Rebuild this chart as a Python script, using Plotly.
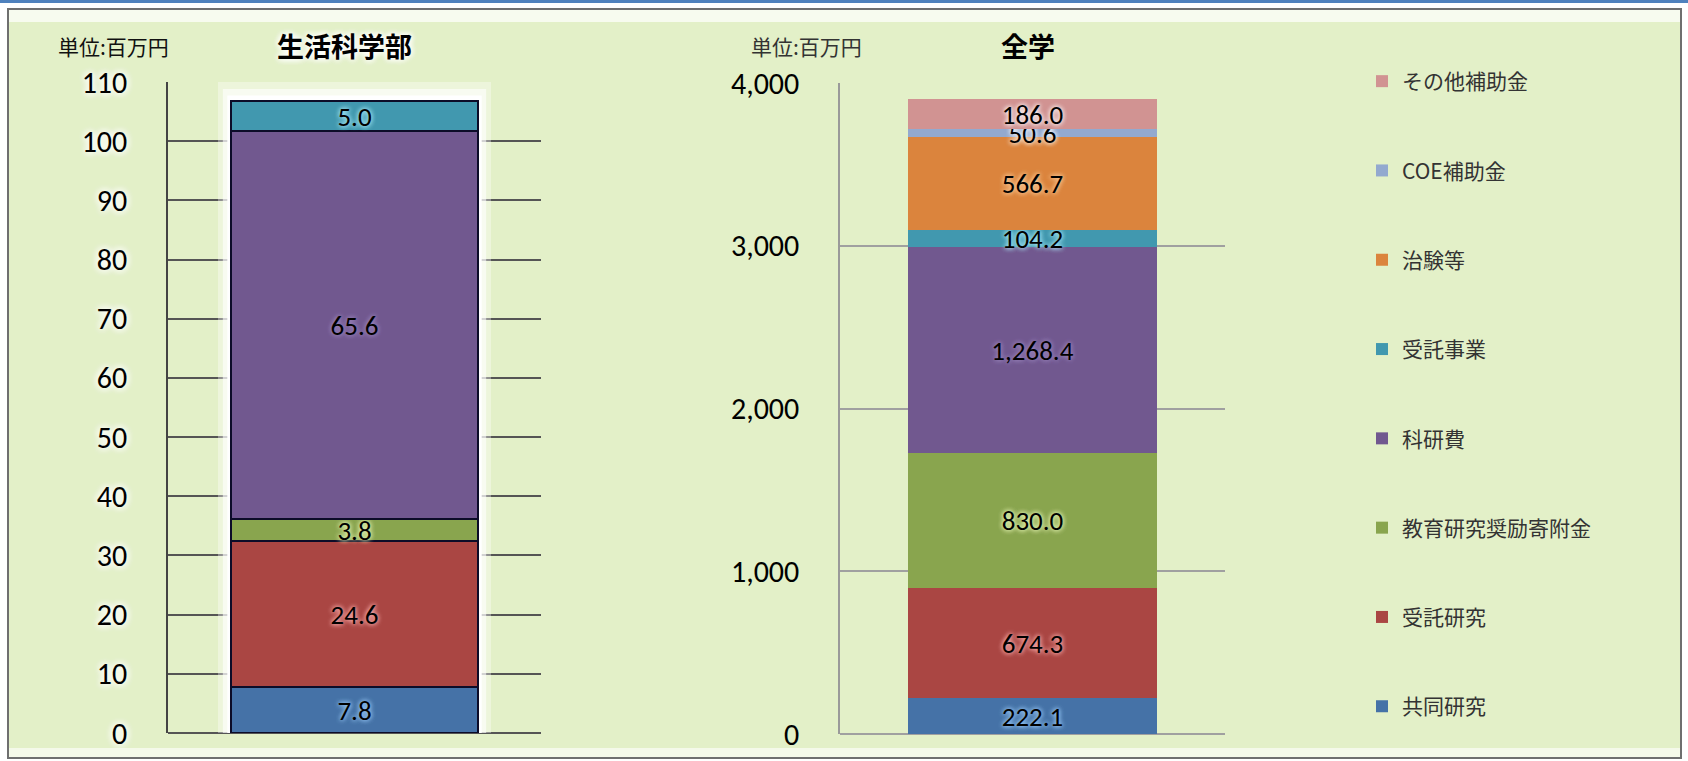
import plotly.graph_objects as go

# ---------------- data ----------------
series_names = ["共同研究", "受託研究", "教育研究奨励寄附金", "科研費",
                "受託事業", "治験等", "COE補助金", "その他補助金"]
series_colors = ["#4572A7", "#AA4643", "#89A54E", "#71588F",
                 "#4198AF", "#DB843D", "#93A9CF", "#D19392"]
glow_colors = ["#9fd0ff", "#ffb3b3", "#f0ffc0", "#9c88c0",
               "#b0f0ff", "#ffd0a0", "#ffffff", "#ffffff"]

left_title = "生活科学部"
right_title = "全学"
unit_label = "単位:百万円"

# 生活科学部 (only first five series present)
left_values = [7.8, 24.6, 3.8, 65.6, 5.0]
# 全学
right_values = [222.1, 674.3, 830.0, 1268.4, 104.2, 566.7, 50.6, 186.0]

left_ticks = [0, 10, 20, 30, 40, 50, 60, 70, 80, 90, 100, 110]
right_ticks = [0, 1000, 2000, 3000, 4000]

# ---------------- styling ----------------
W, H = 1688, 761
NUM_FONT = "Carlito, Lato, sans-serif"
JP_FONT = "Noto Sans CJK JP, sans-serif"
GREEN = "#E3F0C8"

left_bar_w = 0.662
right_bar_w = 0.647

def px_x(p):
    return p / W

def px_y(p):
    return 1 - p / H

fig = go.Figure()

for i, v in enumerate(left_values):
    fig.add_trace(go.Bar(
        x=[0], y=[v], width=left_bar_w, name=series_names[i],
        marker=dict(color=series_colors[i], line=dict(color="#0c0c28", width=2)),
        text=[v], texttemplate="%{y:.1f}", textposition="inside",
        insidetextanchor="middle",
        textfont=dict(family=NUM_FONT, size=27, color="black",
                      shadow=f"0px 0px 5px {glow_colors[i]}, 0px 0px 5px {glow_colors[i]}"),
        xaxis="x", yaxis="y", showlegend=False, hoverinfo="skip",
    ))

n = len(right_values)
for i, v in enumerate(right_values):
    fig.add_trace(go.Bar(
        x=[0], y=[v], width=right_bar_w, name=series_names[i],
        marker=dict(color=series_colors[i], line=dict(width=0)),
        text=[v], texttemplate="%{y:,.1f}", textposition="inside",
        insidetextanchor="middle",
        textfont=dict(family=NUM_FONT, size=27, color="black",
                      shadow=f"0px 0px 5px {glow_colors[i]}, 0px 0px 5px {glow_colors[i]}"),
        xaxis="x2", yaxis="y2", legendgroup=series_names[i], showlegend=True,
        legendrank=n - i, hoverinfo="skip",
    ))

left_total = sum(left_values)

shapes = [
    # top blue rule
    dict(type="rect", xref="paper", yref="paper", x0=0, x1=1,
         y0=px_y(3), y1=1, fillcolor="#4F81BD", line=dict(width=0), layer="below"),
    # chart panel
    dict(type="rect", xref="paper", yref="paper", x0=px_x(8), x1=px_x(1681),
         y0=px_y(758), y1=px_y(9), fillcolor=GREEN,
         line=dict(color="#6f6f6f", width=2), layer="below"),
    # soft highlights of panel
    dict(type="rect", xref="paper", yref="paper", x0=px_x(9), x1=px_x(1680),
         y0=px_y(22), y1=px_y(10), fillcolor="rgba(255,255,255,0.7)",
         line=dict(width=0), layer="below"),
    dict(type="rect", xref="paper", yref="paper", x0=px_x(9), x1=px_x(1680),
         y0=px_y(757), y1=px_y(748), fillcolor="rgba(255,255,255,0.6)",
         line=dict(width=0), layer="below"),
]
# white halo around the left bar (derived from bar width / total)
for pad_x, pad_y, op in [(0.035, 3.2, 0.35), (0.022, 2.0, 0.6), (0.010, 0.9, 1.0)]:
    shapes.append(dict(type="rect", xref="x", yref="y",
                       x0=-left_bar_w / 2 - pad_x, x1=left_bar_w / 2 + pad_x,
                       y0=-pad_y, y1=left_total + pad_y,
                       fillcolor=f"rgba(255,255,255,{op})", line=dict(width=0),
                       layer="between"))

annotations = [
    dict(text=unit_label, x=px_x(56), y=px_y(46), xref="paper", yref="paper",
         xanchor="left", yanchor="middle", showarrow=False,
         font=dict(family=JP_FONT, size=21, color="#111")),
    dict(text=f"<b>{left_title}</b>", x=px_x(344), y=px_y(46), xref="paper", yref="paper",
         xanchor="center", yanchor="middle", showarrow=False,
         font=dict(family=JP_FONT, size=27, color="black",
                   shadow="0px 0px 6px white, 0px 0px 6px white, 0px 0px 6px white")),
    dict(text=unit_label, x=px_x(749), y=px_y(46), xref="paper", yref="paper",
         xanchor="left", yanchor="middle", showarrow=False,
         font=dict(family=JP_FONT, size=21, color="#333")),
    dict(text=f"<b>{right_title}</b>", x=px_x(1028), y=px_y(46), xref="paper", yref="paper",
         xanchor="center", yanchor="middle", showarrow=False,
         font=dict(family=JP_FONT, size=27, color="black")),
]

fig.update_layout(
    width=W, height=H,
    margin=dict(l=0, r=0, t=0, b=0, autoexpand=False),
    paper_bgcolor="white",
    plot_bgcolor="rgba(0,0,0,0)",
    barmode="stack",
    bargap=0,
    shapes=shapes,
    annotations=annotations,
    uniformtext=dict(minsize=27, mode="show"),
    xaxis=dict(domain=[px_x(168), px_x(541)], range=[-0.5, 0.5],
               showticklabels=False, showgrid=False, zeroline=False,
               showline=False, fixedrange=True),
    yaxis=dict(domain=[px_y(733), px_y(82)], range=[0, 110], anchor="x",
               tickvals=left_ticks, ticks="outside", ticklen=33,
               tickcolor="rgba(0,0,0,0)", automargin=False,
               tickfont=dict(family=NUM_FONT, size=30, color="black",
                             shadow="0px 0px 7px white, 0px 0px 7px white, 0px 0px 9px white"),
               showgrid=True, gridcolor="#555555", gridwidth=1.5,
               zeroline=True, zerolinecolor="#555555", zerolinewidth=1.5,
               showline=True, linecolor="#444444", linewidth=1.5),
    xaxis2=dict(domain=[px_x(840), px_x(1225)], range=[-0.5, 0.5],
                showticklabels=False, showgrid=False, zeroline=False,
                showline=False, anchor="y2"),
    yaxis2=dict(domain=[px_y(734), px_y(83)], range=[0, 4000], anchor="x2",
                tickvals=right_ticks, tickformat=",d", ticks="outside", ticklen=33,
                tickcolor="rgba(0,0,0,0)", automargin=False,
                tickfont=dict(family=NUM_FONT, size=30, color="black"),
                showgrid=True, gridcolor="#a0a0a0", gridwidth=1.5,
                zeroline=True, zerolinecolor="#a0a0a0", zerolinewidth=1.5,
                showline=True, linecolor="#9a9a9a", linewidth=1.5),
    legend=dict(x=px_x(1362), y=px_y(61), xanchor="left", yanchor="top",
                traceorder="grouped", tracegroupgap=59,
                font=dict(family=JP_FONT, size=21, color="#333333"),
                bgcolor="rgba(0,0,0,0)", itemwidth=30),
)

post = ("document.body.style.margin='0';"
        "var d=document.getElementById('{plot_id}');"
        "d.style.position='absolute';d.style.left='0px';d.style.top='0px';")

fig.write_html("out.html", post_script=post, config={"displayModeBar": False})
